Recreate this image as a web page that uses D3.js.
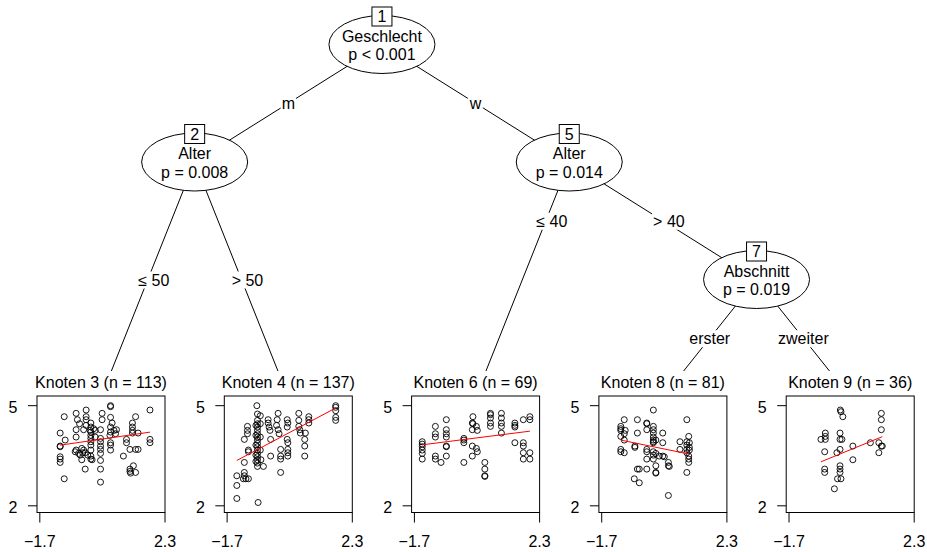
<!DOCTYPE html>
<html><head><meta charset="utf-8">
<script src="https://cdn.jsdelivr.net/npm/d3@7"></script>
<style>
html,body{margin:0;padding:0;background:#fff;}
svg{display:block;font-family:"Liberation Sans",Arial,Helvetica,sans-serif;}
</style></head><body>
<svg id="chart" width="927" height="552"></svg>
<script>
// ---------------- data ----------------
const innerIds = [1, 2, 5, 7];
const innerVars = ["Geschlecht", "Alter", "Alter", "Abschnitt"];
const innerPvals = ["p < 0.001", "p = 0.008", "p = 0.014", "p = 0.019"];

const edgeFrom = [1, 1, 2, 2, 5, 5, 7, 7];
const edgeTo = [2, 5, 3, 4, 6, 7, 8, 9];
const edgeLabels = ["m", "w", "≤ 50", "> 50", "≤ 40", "> 40", "erster", "zweiter"];

const terminalIds = [3, 4, 6, 8, 9];
const terminalN = [113, 137, 69, 81, 36];
const fitIntercept = [3.96, 4.05, 4.00, 3.76, 3.58];
const fitSlope = [0.136, 0.497, 0.119, -0.192, 0.384];

const xTicks = [-1.7, 2.3];
const yTicks = [2, 5];

const node3 = [
[-1.05,4.18],[-1.05,3.79],[-1.05,3.77],[-1.05,3.47],[-1.05,3.40],[-1.05,3.30],
[-0.92,4.67],[-0.92,2.81],[-0.89,3.97],
[-0.54,4.77],[-0.54,4.28],[-0.54,4.06],[-0.54,3.67],[-0.57,3.62],[-0.50,4.58],[-0.43,4.46],
[-0.36,3.38],[-0.36,3.72],[-0.33,3.59],[-0.46,3.57],[-0.41,3.52],
[-0.22,4.87],[-0.22,4.67],[-0.22,4.58],[-0.22,4.41],[-0.25,3.59],[-0.25,3.10],[-0.30,4.28],[-0.30,3.67],[-0.17,3.52],
[-0.07,4.48],[-0.07,4.36],[-0.07,4.21],[-0.07,4.11],[-0.07,4.02],[-0.07,3.92],[-0.07,3.82],[-0.07,3.67],[-0.07,3.49],[-0.07,3.40],
[-0.03,3.38],[-0.09,4.26],[0.02,4.31],[0.07,4.26],[0.07,4.06],
[0.29,4.77],[0.29,4.58],[0.24,4.28],[0.24,4.02],[0.24,3.92],[0.24,3.79],[0.24,3.69],[0.24,3.36],[0.24,3.10],[0.24,2.71],[0.24,3.57],
[0.56,5.00],[0.56,4.97],[0.56,4.65],[0.61,4.48],[0.56,4.36],[0.56,4.21],[0.54,4.11],[0.56,3.89],[0.56,3.82],[0.56,3.67],[0.67,4.26],
[0.75,4.28],[0.72,4.16],[0.97,3.49],[1.07,3.99],[1.07,3.89],
[1.18,3.69],[1.18,3.10],[1.18,3.03],[1.29,3.20],[1.20,2.98],
[1.26,4.48],[1.26,4.36],[1.26,4.26],[1.26,4.18],
[1.36,4.67],[1.36,3.00],[1.36,3.69],[1.44,3.69],[1.44,4.18],
[1.82,4.87],[1.82,3.99],[1.82,3.89]
];
const node4 = [
[-1.39,2.22],[-1.39,2.61],[-1.39,2.90],[-1.18,2.81],[-1.15,3.00],[-1.15,2.90],[-1.15,3.30],[-1.15,3.99],[-1.10,2.81],[-1.02,2.81],
[-1.05,4.38],[-1.05,4.26],[-1.05,4.16],[-1.02,3.67],[-1.02,3.62],
[-0.75,5.00],[-0.73,4.75],[-0.73,4.56],[-0.73,4.46],[-0.73,4.36],[-0.73,4.26],[-0.73,4.16],[-0.73,4.06],[-0.73,3.97],[-0.73,3.87],[-0.73,3.77],[-0.73,3.67],[-0.73,3.57],[-0.73,3.47],[-0.73,3.38],[-0.73,3.28],[-0.73,3.18],
[-0.78,4.41],[-0.78,4.11],[-0.78,3.82],[-0.78,3.52],[-0.78,3.33],[-0.71,2.10],
[-0.64,4.70],[-0.64,4.46],[-0.64,4.06],[-0.64,3.67],[-0.62,3.38],[-0.54,3.18],
[-0.39,4.58],[-0.39,4.48],[-0.36,4.36],[-0.33,4.26],[-0.31,3.99],[-0.31,3.49],
[-0.07,4.77],[-0.10,4.58],[-0.12,4.41],[-0.07,4.28],[-0.04,4.16],
[0.01,3.69],[0.01,3.49],[0.01,3.40],[0.01,3.00],
[0.22,4.58],[0.22,4.36],[0.22,3.99],[0.24,4.48],[0.24,3.89],[0.24,3.69],[0.24,3.59],[0.24,3.49],
[0.59,4.77],[0.59,4.56],[0.59,4.38],[0.62,4.28],[0.64,4.18],
[0.78,3.99],[0.78,3.79],[0.78,3.49],[0.80,4.18],
[0.91,4.67],[0.91,4.58],[0.91,4.48],
[1.77,5.00],[1.77,4.95],[1.77,4.85],[1.77,4.65],[1.77,4.56]
];
const node6 = [
[-1.45,3.92],[-1.45,3.85],[-1.45,3.77],[-1.45,3.67],[-1.45,3.57],[-1.45,3.40],
[-1.03,4.38],[-1.03,4.16],[-1.03,4.06],[-1.03,3.49],[-1.03,3.40],[-0.85,3.30],
[-0.68,4.58],[-0.68,4.28],[-0.68,4.16],[-0.68,4.06],[-0.68,3.79],[-0.68,3.77],[-0.68,3.49],
[-0.12,4.02],[-0.12,3.97],[-0.12,3.89],[-0.12,3.30],
[0.17,4.67],[0.15,4.48],[0.17,4.46],[0.15,4.28],[0.15,3.79],[0.15,3.49],
[0.28,4.38],[0.31,4.26],[0.28,3.72],[0.31,3.62],
[0.55,3.30],[0.55,3.10],[0.55,2.90],[0.55,2.88],
[0.73,4.77],[0.73,4.73],[0.73,4.63],[0.73,4.48],[0.73,4.38],
[1.08,4.77],[1.08,4.63],[1.08,4.48],[1.08,4.38],[1.08,4.18],
[1.51,4.48],[1.51,4.41],[1.51,4.36],[1.51,3.89],
[1.78,4.58],[1.78,3.89],[1.78,3.79],[1.78,3.59],[1.78,3.40],
[1.99,4.67],[1.99,4.58],[1.99,3.59],[1.99,3.40]
];
const node8 = [
[-1.09,4.38],[-1.09,4.31],[-1.09,4.26],[-1.09,4.08],[-1.09,3.69],[-1.09,3.62],
[-0.98,4.58],[-0.98,4.16],[-0.98,3.97],[-0.98,3.59],[-0.95,4.26],
[-0.56,4.58],[-0.56,4.18],[-0.56,3.10],[-0.64,3.79],[-0.64,3.75],[-0.66,2.81],[-0.50,2.69],[-0.50,3.10],
[-0.26,4.48],[-0.26,4.46],[-0.26,4.28],[-0.26,3.69],[-0.26,3.62],[-0.26,3.40],[-0.26,3.10],
[-0.05,4.87],[-0.05,4.38],[-0.05,4.28],[-0.05,4.18],[-0.05,4.06],[-0.05,3.97],[-0.05,3.92],[-0.05,3.89],[-0.05,3.62],[-0.05,3.52],[-0.05,3.40],
[0.03,3.97],[0.03,3.57],[0.03,3.20],[0.03,3.00],[0.03,2.98],
[0.25,4.18],[0.25,3.89],[0.25,3.49],[0.14,3.49],[0.30,3.47],
[0.43,3.30],[0.43,3.20],[0.43,2.31],[0.46,3.18],
[0.80,3.92],[0.80,3.69],
[1.02,4.58],[1.02,3.92],[1.02,3.82],[1.02,3.69],[1.02,3.59],[1.02,3.00],
[1.08,4.08],[1.08,3.40],[1.08,3.49],[1.08,3.30],
[1.10,3.89],[1.10,3.75],[1.10,3.67]
];
const node9 = [
[-0.68,3.99],[-0.54,4.18],[-0.54,4.08],[-0.54,3.99],[-0.56,3.62],[-0.56,3.10],[-0.56,3.00],
[-0.25,2.51],
[-0.06,4.87],[-0.04,4.82],[0.02,4.67],
[-0.07,4.18],[-0.07,3.99],[-0.07,3.69],[-0.07,3.20],[-0.07,3.10],[-0.07,3.00],[-0.01,3.99],[-0.17,3.59],[-0.15,2.81],[-0.04,2.81],
[0.34,3.79],[0.34,3.38],
[0.90,3.89],
[1.25,4.77],[1.25,4.58],[1.25,4.28],[1.25,3.79],[1.17,3.89],[1.17,3.59],[1.28,3.79]
];
const terminalPoints = [node3, node4, node6, node8, node9];

// ---------------- layout ----------------
const svg = d3.select("#chart");
const FS = 16;

const children = {};
edgeFrom.forEach((f, i) => { (children[f] = children[f] || []).push(edgeTo[i]); });
const isLeaf = id => !children[id];
const depth = {};
const leafOrder = [];
(function walk(id, d) {
  depth[id] = d;
  if (isLeaf(id)) leafOrder.push(id); else children[id].forEach(c => walk(c, d + 1));
})(1, 0);
const maxDepth = d3.max(Object.values(depth));
const pos = {};
leafOrder.forEach((id, i) => pos[id] = i);
const leavesOf = id => isLeaf(id) ? [id] : children[id].flatMap(leavesOf);
Object.keys(children).forEach(k => {
  const L = leavesOf(children[k][0]), R = leavesOf(children[k][1]);
  pos[k] = (pos[L[L.length - 1]] + pos[R[0]]) / 2;
});
const xPos = d3.scaleLinear().domain([0, leafOrder.length - 1]).range([101, 850.2]);
const yPos = d3.scaleLinear().domain([0, maxDepth]).range([44.5, 397]);
const nx = id => xPos(pos[id]);
const ny = id => yPos(isLeaf(id) ? maxDepth : depth[id]);

// ---------------- edges ----------------
const gEdges = svg.append("g");
edgeFrom.forEach((f, i) => {
  const t = edgeTo[i];
  gEdges.append("line")
    .attr("x1", nx(f)).attr("y1", ny(f)).attr("x2", nx(t)).attr("y2", ny(t))
    .attr("stroke", "#000").attr("stroke-width", 1);
});

// ---------------- inner nodes ----------------
const gNodes = svg.append("g");
innerIds.forEach((id, i) => {
  const cx = nx(id), cy = ny(id);
  gNodes.append("ellipse").attr("cx", cx).attr("cy", cy).attr("rx", 53).attr("ry", 29)
    .attr("fill", "#fff").attr("stroke", "#000").attr("stroke-width", 1);
  gNodes.append("text").attr("x", cx).attr("y", cy - 2.7).attr("text-anchor", "middle")
    .attr("font-size", FS).text(innerVars[i]);
  gNodes.append("text").attr("x", cx).attr("y", cy + 15.5).attr("text-anchor", "middle")
    .attr("font-size", FS).text(innerPvals[i]);
  gNodes.append("rect").attr("x", cx - 10).attr("y", cy - 28 - 9.5).attr("width", 20).attr("height", 19)
    .attr("fill", "#fff").attr("stroke", "#000").attr("stroke-width", 1);
  gNodes.append("text").attr("x", cx).attr("y", cy - 28 + 5.8).attr("text-anchor", "middle")
    .attr("font-size", FS).text(id);
});

// ---------------- terminal panels ----------------
const fmtX = d3.format(".1f");
const fmtY = d3.format("d");
const gTerm = svg.append("g");
terminalIds.forEach((id, i) => {
  const cx = nx(id);
  const g = gTerm.append("g");
  g.append("rect").attr("x", cx - 93).attr("y", 371).attr("width", 186).attr("height", 181).attr("fill", "#fff");
  g.append("text").attr("x", cx).attr("y", 387.5).attr("text-anchor", "middle").attr("font-size", FS)
    .text(`Knoten ${id} (n = ${terminalN[i]})`);
  const left = cx - 64, right = cx + 64, top = 396, bottom = 512.5;
  const x = d3.scaleLinear().domain([-1.79, 2.3]).range([left, right]);
  const y = d3.scaleLinear().domain([1.8, 5.29]).range([bottom, top]);
  // points
  g.append("g").selectAll("circle").data(terminalPoints[i]).join("circle")
    .attr("cx", d => x(d[0])).attr("cy", d => y(d[1])).attr("r", 3)
    .attr("fill", "none").attr("stroke", "#000").attr("stroke-width", 0.9);
  // fitted line
  const xr = d3.extent(terminalPoints[i], d => d[0]);
  g.append("line")
    .attr("x1", x(xr[0])).attr("y1", y(fitIntercept[i] + fitSlope[i] * xr[0]))
    .attr("x2", x(xr[1])).attr("y2", y(fitIntercept[i] + fitSlope[i] * xr[1]))
    .attr("stroke", "#ff0000").attr("stroke-width", 1);
  // box
  g.append("rect").attr("x", left).attr("y", top).attr("width", right - left).attr("height", bottom - top)
    .attr("fill", "none").attr("stroke", "#000").attr("stroke-width", 1);
  // y axis
  yTicks.forEach(v => {
    g.append("line").attr("x1", left - 9).attr("x2", left).attr("y1", y(v)).attr("y2", y(v))
      .attr("stroke", "#000").attr("stroke-width", 1);
    g.append("text").attr("x", left - 19.5).attr("y", y(v) + 7.6).attr("text-anchor", "end")
      .attr("font-size", FS).text(fmtY(v));
  });
  // x axis
  xTicks.forEach(v => {
    g.append("line").attr("x1", x(v)).attr("x2", x(v)).attr("y1", bottom).attr("y2", bottom + 10)
      .attr("stroke", "#000").attr("stroke-width", 1);
    g.append("text").attr("x", x(v)).attr("y", 547).attr("text-anchor", "middle")
      .attr("font-size", FS).text(fmtX(v));
  });
});

// ---------------- edge labels ----------------
const gLab = svg.append("g");
edgeFrom.forEach((f, i) => {
  const t = edgeTo[i];
  const sibY = d3.min(children[f], c => ny(c));
  const ly = (ny(f) + sibY) / 2;
  const lx = nx(f) + (nx(t) - nx(f)) * (ly - ny(f)) / (ny(t) - ny(f));
  const shift = /^[≤>]/.test(edgeLabels[i]) ? 6 : 0;
  const gl = gLab.append("g");
  const rect = gl.append("rect").attr("fill", "#fff");
  const txt = gl.append("text").attr("x", lx + shift).attr("y", ly + 6).attr("text-anchor", "middle")
    .attr("font-size", FS).text(edgeLabels[i]);
  const bb = txt.node().getBBox();
  rect.attr("x", bb.x - 1).attr("y", bb.y).attr("width", bb.width + 2).attr("height", bb.height);
});
</script>
</body></html>
